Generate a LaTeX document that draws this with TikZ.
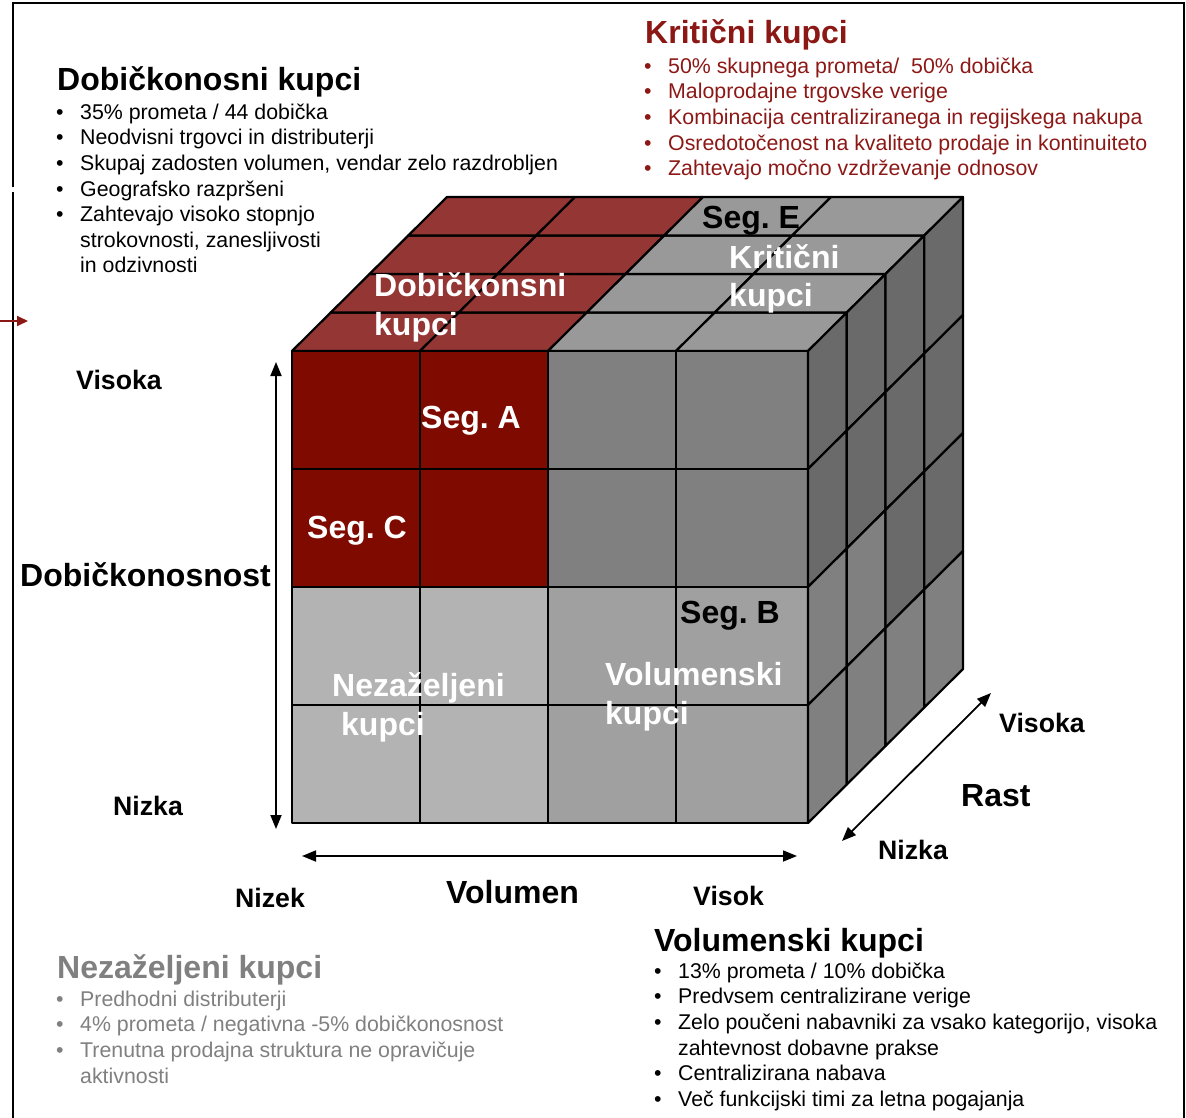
\documentclass[tikz,border=0pt]{standalone}
\usepackage{fontspec}
\setmainfont{Liberation Sans}
\usetikzlibrary{arrows.meta}
\frenchspacing

\definecolor{topred}{RGB}{148,54,52}
\definecolor{frontred}{RGB}{127,10,0}
\definecolor{topgray}{RGB}{153,153,153}
\definecolor{frontgray}{RGB}{128,128,128}
\definecolor{lowleft}{RGB}{179,179,179}
\definecolor{lowright}{RGB}{160,160,160}
\definecolor{rdark}{RGB}{106,106,106}
\definecolor{rlight}{RGB}{128,128,128}
\definecolor{critred}{RGB}{140,24,22}
\definecolor{mutedgray}{RGB}{128,128,128}

\newcommand\hdfont{\fontsize{32}{38}\selectfont\bfseries}
\newcommand\bulfont{\fontsize{21.33}{25.6}\selectfont}
\newcommand\axfont{\fontsize{26.67}{32}\selectfont\bfseries}
\newcommand\bul{\makebox[24pt][l]{•}}

\begin{document}
\begin{tikzpicture}[x=1pt,y=-1pt,
  lbl/.style={inner sep=0pt, anchor=base west},
  head/.style={lbl, font=\hdfont},
  item/.style={lbl, font=\bulfont},
  axis/.style={lbl, font=\axfont},
  celllbl/.style={lbl, font=\hdfont, text=white},
  cell/.style={draw=black, line width=2.2pt, line join=round},
  axisarrow/.style={line width=1.8pt, {Triangle[length=14pt,width=11pt]}-{Triangle[length=14pt,width=11pt]}}]

\useasboundingbox (0,0) rectangle (1186,1118);

% frame
\draw[line width=2.4pt] (13,187.5) -- (13,3) -- (1184,3) -- (1184,1120);
\draw[line width=2.4pt] (13,192.5) -- (13,1120);

% small pointer on the left edge
\coordinate (pin) at (-2,321);
\coordinate (pout) at (28,321);
\draw[critred, line width=2pt, -{Triangle[length=11pt,width=10pt]}] (pin) -- (pout);

% ---- cube: top face (4 columns x 4 depth layers) ----
\foreach \k in {0,...,3}{
  \foreach \xa/\xb/\c in {292/420/topred,420/548/topred,548/676/topgray,676/808/topgray}{
    \filldraw[cell, fill=\c]
      ({\xa+38.75*\k},{351-38.5*\k}) --
      ({\xb+38.75*\k},{351-38.5*\k}) --
      ({\xb+38.75*(\k+1)},{351-38.5*(\k+1)}) --
      ({\xa+38.75*(\k+1)},{351-38.5*(\k+1)}) -- cycle;
  }
}

% ---- cube: front face ----
\foreach \i/\ca/\cb in {0/frontred/frontgray,1/frontred/frontgray,2/lowleft/lowright,3/lowleft/lowright}{
  \foreach \xa/\xb in {292/420,420/548}{
    \filldraw[cell, fill=\ca] (\xa,{351+118*\i}) rectangle (\xb,{351+118*(\i+1)});
  }
  \foreach \xa/\xb in {548/676,676/808}{
    \filldraw[cell, fill=\cb] (\xa,{351+118*\i}) rectangle (\xb,{351+118*(\i+1)});
  }
}

% ---- cube: right face ----
\foreach \i/\ca/\cb in {0/rdark/rdark,1/rdark/rdark,2/rlight/rdark,3/rlight/rlight}{
  \foreach \k/\c in {0/\ca,1/\ca,2/\cb,3/\cb}{
    \filldraw[cell, fill=\c]
      ({808+38.75*\k},{351+118*\i-38.5*\k}) --
      ({808+38.75*(\k+1)},{351+118*\i-38.5*(\k+1)}) --
      ({808+38.75*(\k+1)},{351+118*(\i+1)-38.5*(\k+1)}) --
      ({808+38.75*\k},{351+118*(\i+1)-38.5*\k}) -- cycle;
  }
}

% ---- labels on the cube ----
\node[celllbl, text=black] (sege) at (702,229) {Seg. E};
\node[celllbl] (krit1) at (729,268) {Kritični};
\node[celllbl] (krit2) at (729,306) {kupci};
\node[celllbl] (dob1) at (374,296) {Dobičkonsni};
\node[celllbl] (dob2) at (374,335) {kupci};
\node[celllbl] (sega) at (421,428) {Seg. A};
\node[celllbl] (segc) at (307,538) {Seg. C};
\node[celllbl, text=black] (segb) at (680,623) {Seg. B};
\node[celllbl] (vol1) at (605,685) {Volumenski};
\node[celllbl] (vol2) at (605,724) {kupci};
\node[celllbl] (nez1) at (332,696) {Nezaželjeni};
\node[celllbl] (nez2) at (341,735) {kupci};

% ---- axes ----
\coordinate (vtop) at (276,362);
\coordinate (vbot) at (276,829);
\draw[axisarrow] (vtop) -- (vbot);
\coordinate (hleft) at (302,856);
\coordinate (hright) at (797,856);
\draw[axisarrow] (hleft) -- (hright);
\coordinate (dlow) at (842,841);
\coordinate (dhigh) at (991,693);
\draw[axisarrow] (dlow) -- (dhigh);

\node[axis] (pvis) at (76,389) {Visoka};
\node[head] (pname) at (20,586) {Dobičkonosnost};
\node[axis] (pniz) at (113,815) {Nizka};
\node[axis] (vniz) at (235,907) {Nizek};
\node[head] (vname) at (446,903) {Volumen};
\node[axis] (vvis) at (693,905) {Visok};
\node[axis] (rvis) at (999,732) {Visoka};
\node[head] (rname) at (961,806) {Rast};
\node[axis] (rniz) at (878,859) {Nizka};

% ---- profitable customers ----
\node[head] (dh) at (57,91) {Dobičkonosni kupci};
\node[item] (d1) at (56,119.3) {\bul 35\% prometa / 44 dobička};
\node[item] (d2) at (56,144.9) {\bul Neodvisni trgovci in distributerji};
\node[item] (d3) at (56,170.5) {\bul Skupaj zadosten volumen, vendar zelo razdrobljen};
\node[item] (d4) at (56,196.1) {\bul Geografsko razpršeni};
\node[item] (d5) at (56,221.7) {\bul Zahtevajo visoko stopnjo};
\node[item] (d6) at (80,247.3) {strokovnosti, zanesljivosti};
\node[item] (d7) at (80,272.9) {in odzivnosti};

% ---- critical customers ----
\node[head, text=critred] (kh) at (645,44) {Kritični kupci};
\begin{scope}[every node/.append style={text=critred}]
\node[item] (k1) at (644,73.3) {\bul 50\% skupnega prometa/\ \ 50\% dobička};
\node[item] (k2) at (644,98.9) {\bul Maloprodajne trgovske verige};
\node[item] (k3) at (644,124.5) {\bul Kombinacija centraliziranega in regijskega nakupa};
\node[item] (k4) at (644,150.1) {\bul Osredotočenost na kvaliteto prodaje in kontinuiteto};
\node[item] (k5) at (644,175.7) {\bul Zahtevajo močno vzdrževanje odnosov};
\end{scope}

% ---- unwanted customers ----
\node[head, text=mutedgray] (nh) at (57,978) {Nezaželjeni kupci};
\begin{scope}[every node/.append style={text=mutedgray}]
\node[item] (n1) at (56,1006.3) {\bul Predhodni distributerji};
\node[item] (n2) at (56,1031.9) {\bul 4\% prometa / negativna -5\% dobičkonosnost};
\node[item] (n3) at (56,1057.5) {\bul Trenutna prodajna struktura ne opravičuje};
\node[item] (n4) at (80,1083.1) {aktivnosti};
\end{scope}

% ---- volume customers ----
\node[head] (vh) at (654,951) {Volumenski kupci};
\node[item] (v1) at (654,978.3) {\bul 13\% prometa / 10\% dobička};
\node[item] (v2) at (654,1003.9) {\bul Predvsem centralizirane verige};
\node[item] (v3) at (654,1029.5) {\bul Zelo poučeni nabavniki za vsako kategorijo, visoka};
\node[item] (v4) at (678,1055.1) {zahtevnost dobavne prakse};
\node[item] (v5) at (654,1080.7) {\bul Centralizirana nabava};
\node[item] (v6) at (654,1106.3) {\bul Več funkcijski timi za letna pogajanja};

\end{tikzpicture}
\end{document}
